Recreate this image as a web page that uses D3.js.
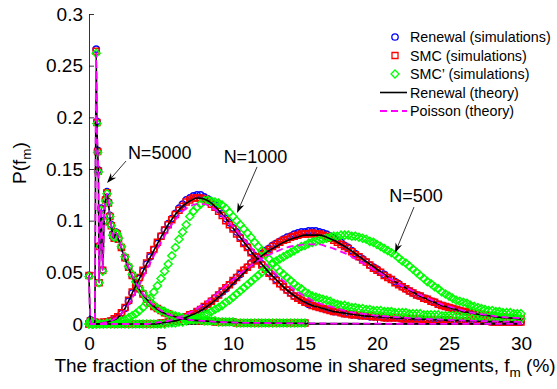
<!DOCTYPE html>
<html><head><meta charset="utf-8">
<script src="https://cdn.jsdelivr.net/npm/d3@7"></script>
<style>
body{margin:0;background:#fff}
svg{display:block}
text{font-family:"Liberation Sans",Arial,Helvetica,sans-serif;fill:#000}
</style></head><body>
<svg id="chart" width="557" height="389"></svg>
<script>
// ---------------- data ----------------
const xTicks=[0,5,10,15,20,25,30];
const xTickLabels=["0","5","10","15","20","25","30"];
const yTicks=[0,0.05,0.1,0.15,0.2,0.25,0.3];
const yTickLabels=["0","0.05","0.1","0.15","0.2","0.25","0.3"];
const legendLabels=["Renewal (simulations)","SMC (simulations)","SMC\u2019 (simulations)","Renewal (theory)","Poisson (theory)"];
const annotationLabels=["N=5000","N=1000","N=500"];

// simulation bins for N=500 and N=1000: f_m = 0, 0.25, ..., 30 (%)
const simBinWidth=0.25;
const renewalSim1000=[
0,0,0,0.001, 0.001,0.002,0.003,0.004, 0.006,0.010,0.015,0.022, 0.030,0.037,0.044,0.051,
0.058,0.065,0.072,0.078, 0.085,0.091,0.097,0.102, 0.107,0.112,0.116,0.120, 0.122,0.124,0.125,0.125,
0.123,0.121,0.118,0.115, 0.111,0.107,0.102,0.098, 0.093,0.089,0.084,0.079, 0.075,0.070,0.066,0.062,
0.058,0.054,0.050,0.046, 0.043,0.039,0.036,0.033, 0.030,0.027,0.025,0.023, 0.021,0.019,0.018,0.017,
0.016,0.015,0.014,0.013, 0.012,0.012,0.011,0.010, 0.010,0.009,0.009,0.008, 0.008,0.008,0.007,0.007,
0.007,0.007,0.006,0.006, 0.006,0.006,0.006,0.005, 0.005,0.005,0.005,0.005, 0.005,0.004,0.004,0.004,
0.004,0.004,0.004,0.004, 0.004,0.003,0.003,0.003, 0.003,0.003,0.003,0.003, 0.003,0.003,0.003,0.003,
0.002,0.002,0.002,0.002, 0.002,0.002,0.002,0.002, 0.002];
const smcSim1000=[
0,0,0,0.001, 0.002,0.002,0.003,0.005, 0.007,0.011,0.016,0.023, 0.031,0.038,0.045,0.052,
0.059,0.066,0.072,0.079, 0.085,0.091,0.096,0.101, 0.106,0.110,0.114,0.118, 0.120,0.122,0.122,0.122,
0.121,0.119,0.116,0.113, 0.109,0.105,0.100,0.096, 0.092,0.087,0.083,0.078, 0.074,0.069,0.065,0.061,
0.057,0.053,0.049,0.046, 0.042,0.039,0.036,0.033, 0.030,0.027,0.025,0.023, 0.021,0.020,0.018,0.017,
0.016,0.015,0.014,0.013, 0.012,0.012,0.011,0.010, 0.010,0.009,0.009,0.009, 0.008,0.008,0.008,0.007,
0.007,0.007,0.006,0.006, 0.006,0.006,0.006,0.005, 0.005,0.005,0.005,0.005, 0.005,0.004,0.004,0.004,
0.004,0.004,0.004,0.004, 0.004,0.003,0.003,0.003, 0.003,0.003,0.003,0.003, 0.003,0.003,0.003,0.003,
0.002,0.002,0.002,0.002, 0.002,0.002,0.002,0.002, 0.002];
const smcPrimeSim1000=[
0,0,0,0, 0,0.001,0.001,0.001, 0.002,0.003,0.004,0.006, 0.008,0.010,0.013,0.016,
0.020,0.025,0.031,0.037, 0.044,0.051,0.058,0.066, 0.074,0.082,0.089,0.096, 0.104,0.109,0.113,0.116,
0.119,0.120,0.119,0.118, 0.117,0.115,0.112,0.108, 0.104,0.100,0.096,0.092, 0.088,0.084,0.079,0.075,
0.071,0.067,0.063,0.059, 0.055,0.051,0.048,0.045, 0.042,0.039,0.036,0.034, 0.031,0.029,0.027,0.026,
0.025,0.024,0.023,0.022, 0.020,0.019,0.018,0.018, 0.017,0.016,0.016,0.015, 0.015,0.014,0.014,0.013,
0.013,0.013,0.012,0.012, 0.012,0.011,0.011,0.011, 0.011,0.010,0.010,0.010, 0.010,0.009,0.009,0.009,
0.009,0.009,0.008,0.008, 0.008,0.008,0.008,0.008, 0.007,0.007,0.007,0.007, 0.007,0.007,0.006,0.006,
0.006,0.006,0.006,0.006, 0.006,0.006,0.006,0.005, 0.005];
const renewalSim500=[
0,0,0,0, 0,0,0,0, 0,0,0,0, 0,0,0,0, 0,0,0,0,
0.001,0.001,0.002,0.002, 0.003,0.004,0.005,0.007, 0.008,0.010,0.012,0.014, 0.016,0.019,0.022,0.025,
0.028,0.031,0.034,0.038, 0.041,0.045,0.048,0.052, 0.055,0.059,0.062,0.065, 0.068,0.071,0.073,0.076,
0.078,0.080,0.082,0.084, 0.085,0.087,0.088,0.089, 0.089,0.090,0.090,0.090, 0.089,0.088,0.087,0.085,
0.083,0.081,0.079,0.076, 0.074,0.071,0.068,0.065, 0.063,0.060,0.057,0.055, 0.053,0.050,0.048,0.045,
0.043,0.041,0.039,0.036, 0.034,0.032,0.030,0.028, 0.027,0.025,0.024,0.022, 0.021,0.019,0.018,0.017,
0.016,0.015,0.014,0.013, 0.012,0.012,0.011,0.010, 0.010,0.009,0.009,0.008, 0.008,0.007,0.007,0.006,
0.006,0.006,0.005,0.005, 0.005];
const smcSim500=[
0,0,0,0, 0,0,0,0, 0,0,0,0, 0,0,0,0, 0,0,0,0,
0.001,0.001,0.002,0.003, 0.003,0.004,0.006,0.007, 0.009,0.010,0.012,0.014, 0.017,0.019,0.022,0.025,
0.028,0.032,0.035,0.038, 0.042,0.045,0.049,0.052, 0.055,0.058,0.062,0.065, 0.067,0.070,0.072,0.075,
0.077,0.079,0.081,0.082, 0.084,0.085,0.086,0.087, 0.087,0.087,0.088,0.087, 0.087,0.086,0.085,0.083,
0.081,0.079,0.077,0.075, 0.073,0.070,0.067,0.065, 0.062,0.060,0.057,0.054, 0.052,0.050,0.047,0.045,
0.043,0.040,0.038,0.036, 0.034,0.032,0.030,0.028, 0.027,0.025,0.024,0.022, 0.021,0.019,0.018,0.017,
0.016,0.015,0.014,0.013, 0.012,0.012,0.011,0.010, 0.010,0.009,0.009,0.008, 0.008,0.007,0.007,0.007,
0.006,0.006,0.006,0.005, 0.005];
const smcPrimeSim500=[
0,0,0,0, 0,0,0,0, 0,0,0,0, 0,0,0,0, 0,0,0,0,
0,0,0.001,0.001, 0.001,0.002,0.002,0.003, 0.004,0.005,0.006,0.007, 0.009,0.010,0.012,0.014,
0.016,0.018,0.021,0.023, 0.026,0.029,0.032,0.035, 0.038,0.041,0.044,0.047, 0.050,0.053,0.055,0.058,
0.061,0.063,0.065,0.067, 0.069,0.071,0.073,0.075, 0.076,0.078,0.079,0.080, 0.081,0.082,0.083,0.084,
0.085,0.085,0.086,0.086, 0.086,0.085,0.085,0.084, 0.083,0.082,0.080,0.079, 0.077,0.075,0.073,0.071,
0.069,0.067,0.064,0.061, 0.059,0.056,0.053,0.050, 0.047,0.044,0.041,0.039, 0.036,0.034,0.031,0.029,
0.027,0.025,0.023,0.022, 0.021,0.020,0.018,0.017, 0.016,0.015,0.014,0.013, 0.013,0.012,0.012,0.011,
0.011,0.011,0.010,0.010, 0.010];

// N=5000 simulations (uneven f_m positions, 0..15 %)
const fSim5000=[0,0.1,0.2,0.3,0.4,0.5,0.55,0.6,0.65,0.7,0.75,0.85,0.95,1.05,1.15,1.25,1.35,1.45,1.55,1.65,1.75,1.85,1.95,2.05,
2.25,2.5,2.75,3,3.25,3.5,3.75,4,4.25,4.5,4.75,5,5.25,5.5,5.75,6,6.25,6.5,6.75,7,7.25,7.5,7.75,8,8.25,8.5,8.75,9,
9.25,9.5,9.75,10,10.25,10.5,10.75,11,11.25,11.5,11.75,12,12.25,12.5,12.75,13,13.25,13.5,13.75,14,14.25,14.5,14.75,15];
const renewalSim5000=[0.047,0.004,0,0,0.002,0.266,0.196,0.168,0.149,0.040,0.076,0.112,0.052,0.100,0.121,0.128,0.118,0.105,0.096,0.087,0.083,0.089,0.088,0.083,
0.074,0.064,0.055,0.047,0.040,0.034,0.029,0.024,0.020,0.017,0.015,0.013,0.011,0.010,0.008,0.007,0.006,0.006,0.005,0.004,0.004,0.004,0.003,0.003,0.003,0.003,0.002,0.002,
0.002,0.002,0.002,0.002,0.001,0.001,0.001,0.001,0.001,0.001,0.001,0.001,0.001,0.001,0.001,0.001,0.001,0.001,0.001,0.001,0.001,0.001,0.001,0.001];
const smcSim5000=[0.047,0.003,0,0,0.002,0.264,0.195,0.167,0.148,0.040,0.075,0.111,0.052,0.099,0.120,0.127,0.117,0.104,0.095,0.086,0.083,0.088,0.087,0.082,
0.074,0.064,0.055,0.047,0.040,0.034,0.029,0.024,0.020,0.017,0.015,0.013,0.011,0.010,0.008,0.007,0.006,0.006,0.005,0.004,0.004,0.004,0.003,0.003,0.003,0.003,0.002,0.002,
0.002,0.002,0.002,0.002,0.001,0.001,0.001,0.001,0.001,0.001,0.001,0.001,0.001,0.001,0.001,0.001,0.001,0.001,0.001,0.001,0.001,0.001,0.001,0.001];
const smcPrimeSim5000=[0.046,0.003,0,0,0.002,0.262,0.194,0.166,0.147,0.040,0.075,0.110,0.051,0.099,0.119,0.126,0.117,0.104,0.095,0.086,0.084,0.088,0.087,0.083,
0.075,0.065,0.056,0.048,0.041,0.035,0.030,0.025,0.021,0.018,0.015,0.013,0.012,0.010,0.009,0.008,0.007,0.006,0.005,0.005,0.004,0.004,0.004,0.003,0.003,0.003,0.003,0.002,
0.002,0.002,0.002,0.002,0.001,0.001,0.001,0.001,0.001,0.001,0.001,0.001,0.001,0.001,0.001,0.001,0.001,0.001,0.001,0.001,0.001,0.001,0.001,0.001];

// theory curves for N=500 and N=1000: f_m = 0, 0.5, ..., 30 (%)
const theoryStep=0.5;
const renewalTheory1000=[0,0,0.001,0.003,0.006,0.015,0.030,0.044,0.058,0.071,0.084,0.096,0.106,0.114,0.119,0.122,0.121,0.117,0.110,0.102,
0.093,0.084,0.075,0.066,0.058,0.050,0.043,0.036,0.030,0.025,0.021,0.018,0.016,0.014,0.012,0.011,0.010,0.009,0.008,0.0075,
0.007,0.0065,0.006,0.0057,0.0054,0.005,0.0047,0.0044,0.0041,0.0038,0.0035,0.0033,0.0031,0.0029,0.0027,0.0025,0.0023,0.0022,0.0021,0.002,0.0019];
const poissonTheory1000=[0,0,0.001,0.003,0.007,0.014,0.025,0.038,0.052,0.066,0.079,0.091,0.101,0.109,0.114,0.116,0.116,0.113,0.108,0.101,
0.094,0.086,0.078,0.070,0.062,0.055,0.048,0.042,0.036,0.031,0.027,0.023,0.020,0.018,0.016,0.014,0.012,0.011,0.010,0.009,
0.008,0.0075,0.007,0.0065,0.006,0.0056,0.0052,0.0048,0.0045,0.0042,0.0039,0.0036,0.0034,0.0032,0.003,0.0028,0.0026,0.0024,0.0023,0.0022,0.0021];
const renewalTheory500=[0,0,0,0,0,0,0,0,0,0,
0.001,0.002,0.003,0.005,0.008,0.011,0.015,0.020,0.026,0.032,0.039,0.046,0.053,0.060,0.066,0.071,0.075,0.079,0.082,0.084,
0.086,0.086,0.086,0.084,0.081,0.077,0.073,0.068,0.063,0.058,0.053,0.048,0.043,0.039,0.035,0.031,0.027,0.024,0.021,0.018,
0.016,0.014,0.012,0.011,0.0095,0.0085,0.0075,0.0065,0.006,0.0055,0.005];
const poissonTheory500=[0,0,0,0,0,0,0,0,0,
0.001,0.002,0.003,0.005,0.008,0.011,0.015,0.020,0.025,0.031,0.037,0.043,0.049,0.054,0.059,0.063,0.067,0.070,0.073,0.075,0.076,
0.077,0.077,0.077,0.075,0.073,0.070,0.067,0.063,0.059,0.055,0.051,0.047,0.043,0.039,0.035,0.032,0.028,0.025,0.022,0.019,
0.017,0.015,0.013,0.011,0.010,0.009,0.008,0.007,0.0065,0.006,0.0055];
// theory for N=5000 (uneven f_m positions)
const fTheory5000=[0,0.1,0.2,0.3,0.4,0.5,0.55,0.6,0.65,0.7,0.75,0.85,0.95,1.05,1.15,1.25,1.35,1.45,1.55,1.65,1.75,1.85,1.95,2.05,
2.25,2.5,3,3.5,4,4.5,5,6,7,8,9,10,12,14,16,18,20,22,24,26,28,30];
const renewalTheory5000=[0.047,0.003,0,0,0.002,0.262,0.195,0.167,0.148,0.040,0.076,0.112,0.052,0.100,0.120,0.126,0.117,0.104,0.095,0.086,0.083,0.088,0.087,0.082,
0.073,0.063,0.046,0.033,0.024,0.017,0.012,0.007,0.004,0.003,0.002,0.0015,0.001,0.0007,0.0005,0.0004,0.0003,0.0002,0.0002,0.0001,0.0001,0.0001];
const poissonTheory5000=[0.047,0.003,0,0,0.002,0.262,0.195,0.167,0.148,0.040,0.076,0.112,0.052,0.100,0.120,0.126,0.117,0.104,0.095,0.086,0.083,0.088,0.087,0.082,
0.074,0.064,0.047,0.034,0.025,0.018,0.013,0.007,0.004,0.003,0.002,0.0015,0.001,0.0007,0.0005,0.0004,0.0003,0.0002,0.0002,0.0001,0.0001,0.0001];

// ---------------- chart ----------------
const svg=d3.select("#chart");
const x=d3.scaleLinear().domain([0,30]).range([89,521]);
const y=d3.scaleLinear().domain([0,0.3]).range([324,14]);
const gridPts=(vals,step)=>vals.map((v,i)=>[i*step,v]);
const pairPts=(fs,vals)=>vals.map((v,i)=>[fs[i],v]);

const BLUE="#0000ff",RED="#ff0000",GREEN="#00ff00",MAGENTA="#ff00ff";

// axes
const yAxis=d3.axisLeft(y).tickValues(yTicks).tickFormat((d,i)=>yTickLabels[i]).tickSizeInner(-5).tickSizeOuter(0).tickPadding(6);
const xAxis=d3.axisBottom(x).tickValues(xTicks).tickFormat((d,i)=>xTickLabels[i]).tickSizeInner(-5).tickSizeOuter(0).tickPadding(13);
const gy=svg.append("g").attr("transform","translate(89,0)").call(yAxis);
const gx=svg.append("g").attr("transform","translate(0,324)").call(xAxis);
[gx,gy].forEach(g=>{
  g.selectAll("path,line").attr("stroke","#000").attr("stroke-width",0.8);
  g.selectAll("text").attr("font-size",19).attr("font-family","'Liberation Sans',Arial,sans-serif").attr("fill","#000");
});

const plot=svg.append("g");
const simSets=[
  {color:BLUE,shape:"circle",data:[gridPts(renewalSim500,simBinWidth),gridPts(renewalSim1000,simBinWidth),pairPts(fSim5000,renewalSim5000)]},
  {color:RED,shape:"square",data:[gridPts(smcSim500,simBinWidth),gridPts(smcSim1000,simBinWidth),pairPts(fSim5000,smcSim5000)]},
  {color:GREEN,shape:"diamond",data:[gridPts(smcPrimeSim500,simBinWidth),gridPts(smcPrimeSim1000,simBinWidth),pairPts(fSim5000,smcPrimeSim5000)]}
];
function markerPath(shape){
  if(shape==="circle") return "M3.2,0A3.2,3.2 0 1,1 -3.2,0A3.2,3.2 0 1,1 3.2,0Z";
  if(shape==="square") return "M-3,-3H3V3H-3Z";
  return "M0,-4L4,0L0,4L-4,0Z";
}
simSets.forEach(s=>{
  s.data.forEach(pts=>{
    plot.append("g").selectAll("path").data(pts).join("path")
      .attr("d",markerPath(s.shape))
      .attr("transform",d=>`translate(${x(d[0])},${y(d[1])})`)
      .attr("fill","none").attr("stroke",s.color).attr("stroke-width",1.5);
  });
});

const line=d3.line().x(d=>x(d[0])).y(d=>y(d[1])).curve(d3.curveMonotoneX);
const theoryBlack=[gridPts(renewalTheory500,theoryStep),gridPts(renewalTheory1000,theoryStep),pairPts(fTheory5000,renewalTheory5000)];
const theoryMag=[gridPts(poissonTheory500,theoryStep),gridPts(poissonTheory1000,theoryStep),pairPts(fTheory5000,poissonTheory5000)];
theoryBlack.forEach(pts=>plot.append("path").attr("d",line(pts)).attr("fill","none").attr("stroke","#000").attr("stroke-width",1.6));
theoryMag.forEach(pts=>plot.append("path").attr("d",line(pts)).attr("fill","none").attr("stroke",MAGENTA).attr("stroke-width",1.8).attr("stroke-dasharray","7,4"));

// axis labels
const ylab=svg.append("text").attr("transform","translate(26,163) rotate(-90)").attr("text-anchor","middle").attr("font-size",19);
ylab.append("tspan").text("P(f");
ylab.append("tspan").attr("font-size",13.5).attr("dy",5).text("m");
ylab.append("tspan").attr("dy",-5).text(")");
const xlab=svg.append("text").attr("x",305).attr("y",372).attr("text-anchor","middle").attr("font-size",19);
xlab.append("tspan").text("The fraction of the chromosome in shared segments, f");
xlab.append("tspan").attr("font-size",13.5).attr("dy",5).text("m");
xlab.append("tspan").attr("dy",-5).text(" (%)");

// legend
const leg=svg.append("g");
const legY=[37,55.5,74,92.5,111];
legendLabels.forEach((lab,i)=>{
  leg.append("text").attr("x",410).attr("y",legY[i]+5).attr("font-size",14.3).text(lab);
});
[["circle",BLUE],["square",RED],["diamond",GREEN]].forEach(([sh,c],i)=>{
  leg.append("path").attr("d",markerPath(sh)).attr("transform",`translate(395,${legY[i]})`).attr("fill","none").attr("stroke",c).attr("stroke-width",1.3);
});
leg.append("line").attr("x1",380).attr("x2",407).attr("y1",legY[3]).attr("y2",legY[3]).attr("stroke","#000").attr("stroke-width",1.6);
leg.append("line").attr("x1",380).attr("x2",407).attr("y1",legY[4]).attr("y2",legY[4]).attr("stroke",MAGENTA).attr("stroke-width",1.8).attr("stroke-dasharray","7,4");

// annotations (text + arrows), positioned in data coordinates
const ann=[
  {label:annotationLabels[0],tx:2.70,ty:0.160,from:[2.57,0.1577],to:[1.25,0.1365]},
  {label:annotationLabels[1],tx:9.35,ty:0.156,from:[11.67,0.152],to:[10.28,0.1074]},
  {label:annotationLabels[2],tx:20.85,ty:0.118,from:[22.57,0.1132],to:[21.25,0.0687]}
];
ann.forEach(a=>{
  svg.append("text").attr("x",x(a.tx)).attr("y",y(a.ty)).attr("font-size",18).text(a.label);
  const x1=x(a.from[0]),y1=y(a.from[1]),x2=x(a.to[0]),y2=y(a.to[1]);
  const ang=Math.atan2(y2-y1,x2-x1);
  const L=10,Wd=3.5,N=7;
  const ux=Math.cos(ang),uy=Math.sin(ang),px=-uy,py=ux;
  svg.append("line").attr("x1",x1).attr("y1",y1).attr("x2",x2-ux*N).attr("y2",y2-uy*N).attr("stroke","#000").attr("stroke-width",0.8);
  const head=[[x2,y2],[x2-ux*L+px*Wd,y2-uy*L+py*Wd],[x2-ux*N,y2-uy*N],[x2-ux*L-px*Wd,y2-uy*L-py*Wd]];
  svg.append("path").attr("d","M"+head.map(p=>p.join(",")).join("L")+"Z").attr("fill","#000");
});
</script>
</body></html>
